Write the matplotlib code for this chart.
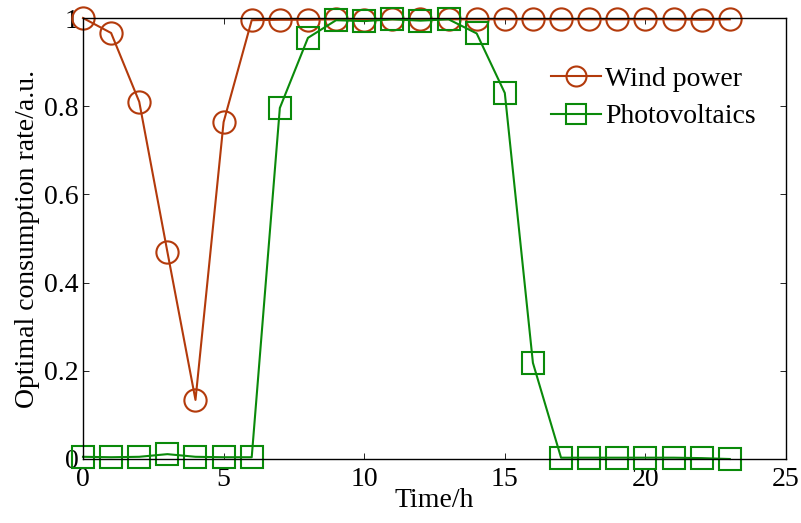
import matplotlib
matplotlib.use("Agg")
import matplotlib.pyplot as plt
import numpy as np

hours = list(range(24))
wind = [1.0, 0.966, 0.81, 0.47, 0.134, 0.764, 0.995, 0.996, 0.996, 0.997, 0.996, 0.997, 0.997, 0.997,
        0.997, 0.997, 0.997, 0.997, 0.997, 0.997, 0.997, 0.997, 0.996, 0.997]
pv = [0.005, 0.004, 0.005, 0.011, 0.005, 0.004, 0.004, 0.796, 0.955, 0.995, 0.993, 0.997, 0.994, 0.997,
      0.965, 0.83, 0.218, 0.003, 0.003, 0.003, 0.003, 0.003, 0.002, 0.0]
xticks = [0, 5, 10, 15, 20, 25]
yticks = [0, 0.2, 0.4, 0.6, 0.8, 1.0]
yticklabels = ["0", "0.2", "0.4", "0.6", "0.8", "1"]

plt.rcParams['font.family'] = ['Liberation Serif', 'DejaVu Serif']
fig = plt.figure(figsize=(8.01, 5.23), dpi=100)
ax = fig.add_axes([83/801, 1-459/523, (786-83)/801, (459-18)/523])

wc = '#B33A0B'
gc = '#0A8A0A'
fs = 20
ax.plot(hours, wind, '-o', color=wc, lw=1.5, ms=16, mfc='none', mec=wc, mew=1.5, label='Wind power', clip_on=False)
ax.plot(hours, pv, '-s', color=gc, lw=1.5, ms=16.5, mfc='none', mec=gc, mew=1.5, label='Photovoltaics', clip_on=False)

ax.set_xlim(0, 25)
ax.set_ylim(0, 1)
ax.set_xticks(xticks)
ax.set_yticks(yticks)
ax.set_yticklabels(yticklabels)
ax.tick_params(direction='in', top=True, right=True, labelsize=fs, length=4, width=0.6)
ax.tick_params(axis='x', pad=6)
ax.tick_params(axis='y', pad=3)
for s in ax.spines.values():
    s.set_linewidth(1.0)
ax.set_xlabel('Time/h', fontsize=fs, labelpad=-3)
ax.set_ylabel('Optimal consumption rate/a.u.', fontsize=fs, labelpad=3)
ax.legend(loc='upper right', bbox_to_anchor=(0.985, 0.935), frameon=False, fontsize=fs,
          handlelength=1.8, handletextpad=0.15, borderpad=0.2, labelspacing=0.45, markerscale=0.9)

fig.savefig('out.png', dpi=100)
